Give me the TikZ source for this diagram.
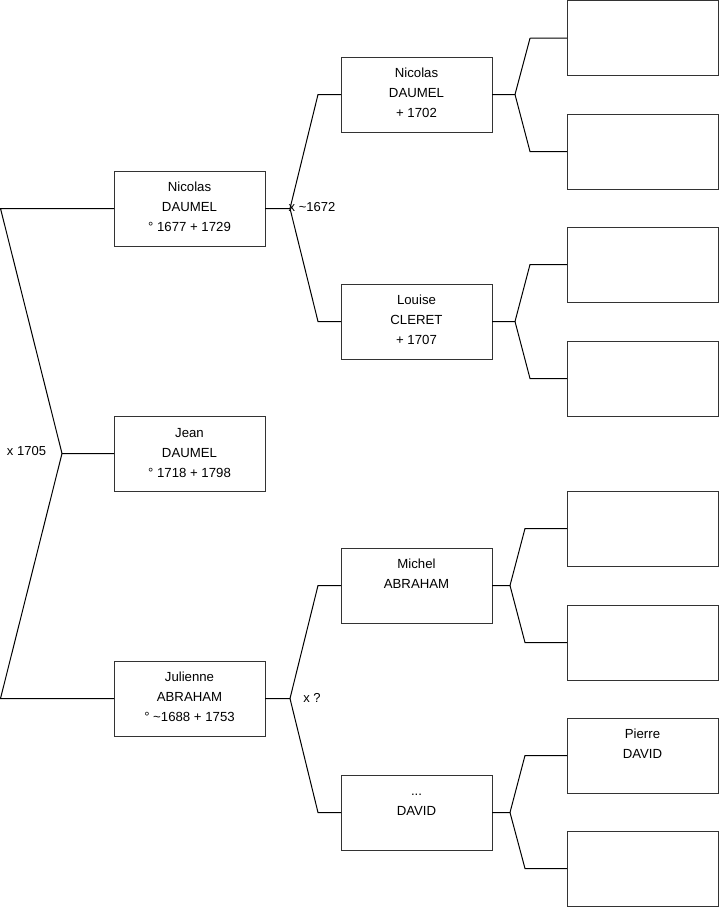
\documentclass[tikz,border=0pt]{standalone}
\usepackage{fontspec}
\setmainfont{Liberation Sans}
\usetikzlibrary{calc}
\newcommand{\fstrut}{\rule{0pt}{10pt}}
\begin{document}
\begin{tikzpicture}[x=1pt,y=-1pt,
  box/.style={draw=black!80,line width=1pt,rectangle,minimum width=151pt,minimum height=75pt,inner sep=0pt,outer sep=0pt,anchor=north west},
  txt/.style={anchor=north,align=center,inner sep=0pt,font=\fontsize{13.2}{20}\selectfont},
  lbl/.style={inner sep=0pt,font=\fontsize{13}{14}\selectfont},
  conn/.style={draw=black,line width=1pt}]
\useasboundingbox (0,0) rectangle (719,908);
% generation 1
\node[box] (nic1) at (114,171) {};
\node[box] (jean) at (114,416) {};
\node[box] (jul) at (114,661) {};
% generation 2
\node[box] (nic2) at (341,57) {};
\node[box] (lou) at (341,284) {};
\node[box] (mic) at (341,548) {};
\node[box] (dav) at (341,775) {};
% generation 3
\node[box] (g1) at (567,0.5) {};
\node[box] (g2) at (567,114) {};
\node[box] (g3) at (567,227) {};
\node[box] (g4) at (567,341) {};
\node[box] (g5) at (567,491) {};
\node[box] (g6) at (567,605) {};
\node[box] (g7) at (567,718) {};
\node[box] (g8) at (567,831) {};
% texts
\node[txt] (tnic1) at ($(nic1.north)+(0,10.3)$) {\fstrut Nicolas\\DAUMEL\\° 1677 + 1729};
\node[txt] (tjean) at ($(jean.north)+(0,11)$) {\fstrut Jean\\DAUMEL\\° 1718 + 1798};
\node[txt] (tjul) at ($(jul.north)+(0,10.3)$) {\fstrut Julienne\\ABRAHAM\\° \textasciitilde1688 + 1753};
\node[txt] (tnic2) at ($(nic2.north)+(0,10.3)$) {\fstrut Nicolas\\DAUMEL\\+ 1702};
\node[txt] (tlou) at ($(lou.north)+(0,10.3)$) {\fstrut Louise\\CLERET\\+ 1707};
\node[txt] (tmic) at ($(mic.north)+(0,10.3)$) {\fstrut Michel\\ABRAHAM};
\node[txt] (tdav) at ($(dav.north)+(0,10.3)$) {\fstrut ...\\DAVID};
\node[txt] (tg7) at ($(g7.north)+(0,10.3)$) {\fstrut Pierre\\DAVID};
% forks
\coordinate (fj) at (62,453.5);
\coordinate (fjt) at (0.5,208.5);
\coordinate (fjb) at (0.5,698.5);
\draw[conn] (jean.west) -- (fj) -- (fjt) -- (nic1.west);
\draw[conn] (fj) -- (fjb) -- (jul.west);
\coordinate (fn) at (290,208.5);
\coordinate (fnt) at (318,94.5);
\coordinate (fnb) at (318,321.5);
\draw[conn] (nic1.east) -- (fn) -- (fnt) -- (nic2.west);
\draw[conn] (fn) -- (fnb) -- (lou.west);
\coordinate (fu) at (290,698.5);
\coordinate (fut) at (318,585.5);
\coordinate (fub) at (318,812.5);
\draw[conn] (jul.east) -- (fu) -- (fut) -- (mic.west);
\draw[conn] (fu) -- (fub) -- (dav.west);
\coordinate (f2a) at (515,94.5);
\coordinate (f2at) at (530,38.25);
\coordinate (f2ab) at (530,151.5);
\draw[conn] (nic2.east) -- (f2a) -- (f2at) -- (g1.west);
\draw[conn] (f2a) -- (f2ab) -- (g2.west);
\coordinate (f2b) at (515,321.5);
\coordinate (f2bt) at (530,264.5);
\coordinate (f2bb) at (530,378.5);
\draw[conn] (lou.east) -- (f2b) -- (f2bt) -- (g3.west);
\draw[conn] (f2b) -- (f2bb) -- (g4.west);
\coordinate (f2c) at (510,585.5);
\coordinate (f2ct) at (525,528.5);
\coordinate (f2cb) at (525,642.5);
\draw[conn] (mic.east) -- (f2c) -- (f2ct) -- (g5.west);
\draw[conn] (f2c) -- (f2cb) -- (g6.west);
\coordinate (f2d) at (510,812.5);
\coordinate (f2dt) at (525,755.5);
\coordinate (f2db) at (525,868.5);
\draw[conn] (dav.east) -- (f2d) -- (f2dt) -- (g7.west);
\draw[conn] (f2d) -- (f2db) -- (g8.west);
% marriage labels
\node[lbl] (m1) at (26.5,451.5) {x 1705};
\node[lbl,anchor=west] (m2) at (288.5,207.5) {x \textasciitilde1672};
\node[lbl] (m3) at (312,697.5) {x ?};
\end{tikzpicture}
\end{document}
